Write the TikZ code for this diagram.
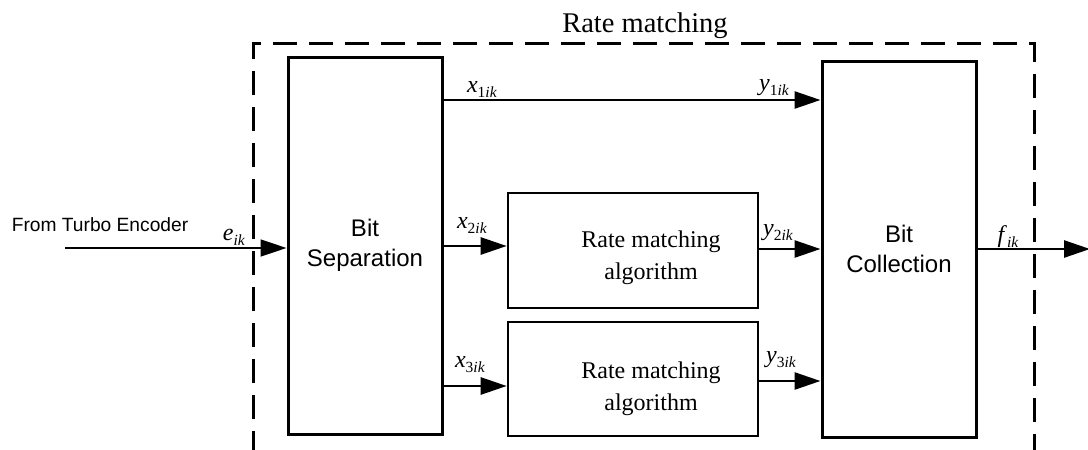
\documentclass[tikz,border=0pt]{standalone}
\usepackage{fontspec}
\setmainfont{Liberation Serif}
\newfontfamily\arialf{Liberation Sans}
\usetikzlibrary{arrows.meta}
\newcommand\lbl[2]{\textit{#1}\raisebox{-0.22em}{\fontsize{15.5}{15.5}\selectfont #2\textit{ik}}}
\begin{document}
\begin{tikzpicture}[x=1pt,y=-1pt,
  blk/.style={draw,line width=3pt,inner sep=0pt,
    minimum width=154pt,minimum height=376pt,align=center,
    font=\arialf\fontsize{24}{30}\selectfont},
  rmbox/.style={draw,line width=2.6pt,inner sep=0pt,minimum width=250pt,minimum height=114pt},
  rmtext/.style={align=center,font=\fontsize{24}{32}\selectfont,inner sep=0pt},
  arr/.style={line width=2.6pt,-{Triangle[length=26pt,width=17pt]}},
  lab/.style={anchor=base,inner sep=0pt,font=\fontsize{24}{24}\selectfont},
  frame/.style={line width=3pt,dash pattern=on 24pt off 12pt}]
\useasboundingbox (0,0) rectangle (1088,450);
% dashed frame
\coordinate (fl) at (253,455);
\coordinate (ftl) at (253,43);
\coordinate (ftr) at (1034,43);
\coordinate (fr) at (1034,455);
\draw[frame] (fl) -- (ftl) -- (ftr) -- (fr);
\node[anchor=base,inner sep=0pt,font=\fontsize{28.5}{30}\selectfont] (title) at (645,32) {Rate matching};
% blocks
\node[blk,minimum height=377pt] (bs) at (365,245.5) {Bit\\Separation};
\node[blk] (bc) at (899,249) {Bit\\Collection};
\node[rmbox,minimum height=115pt] (rm1) at (633,250.5) {};
\node[rmbox] (rm2) at (633,379) {};
\node[rmtext] (t1) at (651,258) {Rate matching\\algorithm};
\node[rmtext] (t2) at (651,389) {Rate matching\\algorithm};
% row coordinates
\coordinate (r1) at (0,100);
\coordinate (rx2) at (0,246);
\coordinate (rx3) at (0,386);
\coordinate (ry2) at (0,249);
\coordinate (ry3) at (0,381);
\coordinate (re) at (0,248);
\coordinate (src) at (65,248);
\coordinate (dst) at (1090,249);
% connectors
\draw[arr] (bs.east |- r1) -- (bc.west |- r1);
\draw[arr] (bs.east |- rx2) -- (rm1.west |- rx2);
\draw[arr] (bs.east |- rx3) -- (rm2.west |- rx3);
\draw[arr] (rm1.east |- ry2) -- (bc.west |- ry2);
\draw[arr] (rm2.east |- ry3) -- (bc.west |- ry3);
\draw[arr,line width=1.8pt] (src) -- (bs.west |- re);
\draw[arr] (bc.east |- dst) -- (dst);
% labels
\node[anchor=base,inner sep=0pt,font=\arialf\fontsize{19.2}{20}\selectfont] (from) at (100,231) {From Turbo Encoder};
\node[lab] (le) at (234,240) {\lbl{e}{}};
\node[lab] (lx1) at (482,92) {\lbl{x}{1}};
\node[lab] (ly1) at (774,90) {\lbl{y}{1}};
\node[lab] (lx2) at (472,228) {\lbl{x}{2}};
\node[lab] (ly2) at (778,235) {\lbl{y}{2}};
\node[lab] (lx3) at (470,367) {\lbl{x}{3}};
\node[lab] (ly3) at (781,362) {\lbl{y}{3}};
\node[lab] (lf) at (1008,242) {\lbl{f}{}};
\end{tikzpicture}
\end{document}
